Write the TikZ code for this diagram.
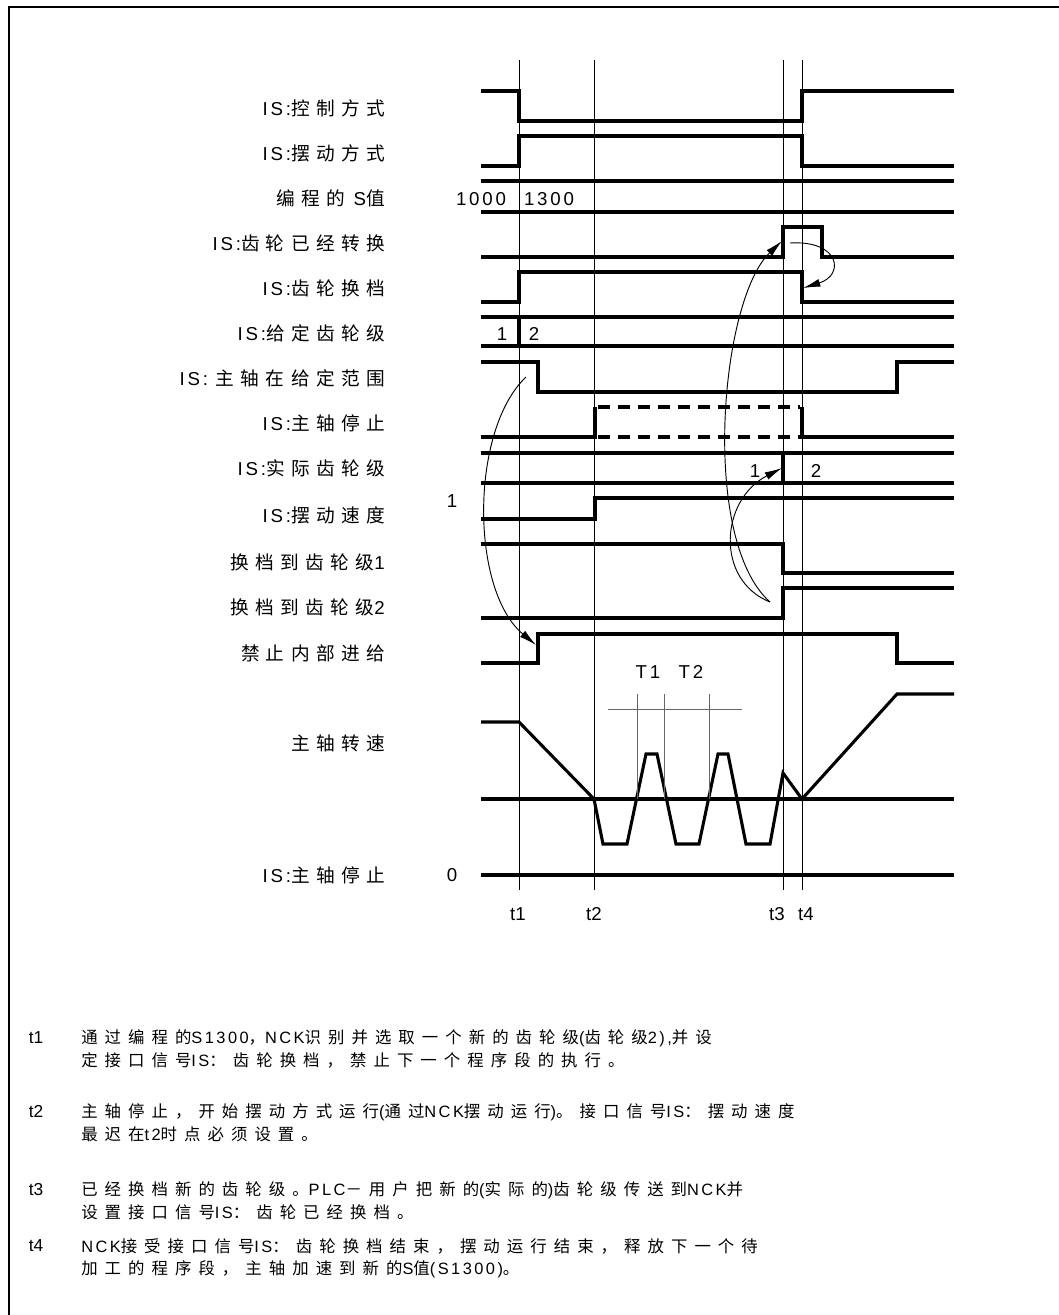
\documentclass[tikz,border=0pt]{standalone}
\usepackage{fontspec}
\setmainfont{Liberation Sans}[LetterSpace=15]
\newfontfamily\plainfont{Liberation Sans}
\newfontfamily\zhA{Noto Sans CJK SC}[LetterSpace=34]
\newfontfamily\zhB{Noto Sans CJK SC}[LetterSpace=43]
\usetikzlibrary{arrows.meta}
\newcommand\za[1]{{\zhA #1}}
\newcommand\zb[1]{{\zhB #1}}
\begin{document}
\begin{tikzpicture}[x=0.75pt,y=-0.75pt,
  sig/.style={line width=2.3pt},
  tline/.style={line width=0.75pt},
  tmark/.style={line width=0.6pt, black!60},
  dsig/.style={line width=2.3pt, dash pattern=on 9pt off 6pt},
  curv/.style={line width=0.7pt, -{Latex[length=13pt,width=6pt]}},
  lab/.style={anchor=east, inner sep=0pt, font=\fontsize{14}{16}\selectfont},
  val/.style={inner sep=0pt, font=\fontsize{14}{16}\selectfont},
  tlab/.style={inner sep=0pt, font=\plainfont\fontsize{14}{16}\selectfont},
  ntlab/.style={inner sep=0pt, font=\plainfont\fontsize{13}{15}\selectfont},
  note/.style={anchor=west, inner sep=0pt, font=\fontsize{12.3}{14}\selectfont},
]
\useasboundingbox (0,0) rectangle (1059,1315);
% frame
\draw[line width=1.5pt] (9,1315) -- (9,7) -- (1059,7);

% time lines
\draw[tline] (519,60) -- (519,890);
\draw[tline] (594,60) -- (594,890);
\draw[tline] (783,60) -- (783,890);
\draw[tline] (802,60) -- (802,890);
\node[tlab] (t1) at (518,914) {t1};
\node[tlab] (t2) at (594,914) {t2};
\node[tlab] (t3) at (777,914) {t3};
\node[tlab] (t4) at (806,914) {t4};

% labels
\node[lab] (l1) at (385,108) {IS:\za{控制方式}};
\node[lab] (l2) at (385,153) {IS:\za{摆动方式}};
\node[lab] (l3) at (385,198) {\za{编程的} S\za{值}};
\node[lab] (l4) at (385,243) {IS:\za{齿轮已经转换}};
\node[lab] (l5) at (385,288) {IS:\za{齿轮换档}};
\node[lab] (l6) at (385,333) {IS:\za{给定齿轮级}};
\node[lab] (l7) at (385,378) {IS: \za{主轴在给定范围}};
\node[lab] (l8) at (385,423) {IS:\za{主轴停止}};
\node[lab] (l9) at (385,468) {IS:\za{实际齿轮级}};
\node[lab] (l10) at (385,515) {IS:\za{摆动速度}};
\node[lab] (l11) at (385,562) {\za{换档到齿轮级}1};
\node[lab] (l12) at (385,607) {\za{换档到齿轮级}2};
\node[lab] (l13) at (385,653) {\za{禁止内部进给}};
\node[lab] (l14) at (385,743) {\za{主轴转速}};
\node[lab] (l15) at (385,875) {IS:\za{主轴停止}};

% row 1
\draw[sig] (481,91) -- (519,91) -- (519,121) -- (802,121) -- (802,91) -- (954,91);
% row 2
\draw[sig] (481,166) -- (519,166) -- (519,136) -- (802,136) -- (802,166) -- (954,166);
% row 3
\draw[sig] (481,181) -- (954,181);
\draw[sig] (481,212) -- (954,212);
\node[val] (v1000) at (481,199) {1000};
\node[val] (v1300) at (549,199) {1300};
% row 4
\draw[sig] (481,257) -- (783,257) -- (783,227) -- (822,227) -- (822,257) -- (954,257);
% row 5
\draw[sig] (481,302) -- (519,302) -- (519,272) -- (802,272) -- (802,302) -- (954,302);
% row 6
\draw[sig] (481,317) -- (954,317);
\draw[sig] (481,346) -- (954,346);
\draw[sig] (519,317) -- (519,346);
\node[val] (g1) at (502,334) {1};
\node[val] (g2) at (534,334) {2};
% row 7
\draw[sig] (481,362) -- (538,362) -- (538,392) -- (897,392) -- (897,362) -- (954,362);
% row 8
\draw[sig] (481,437) -- (595,437) -- (595,407);
\draw[dsig] (598,407) -- (800,407);
\draw[dsig] (598,437) -- (800,437);
\draw[sig] (802,407) -- (802,437) -- (954,437);
% row 9
\draw[sig] (481,453) -- (954,453);
\draw[sig] (481,483) -- (954,483);
\draw[sig] (783,453) -- (783,483);
\node[val] (a1) at (755,471) {1};
\node[val] (a2) at (816,471) {2};
% row 10
\draw[sig] (481,519) -- (595,519) -- (595,498) -- (954,498);
\node[val] (one) at (452,501) {1};
% row 11
\draw[sig] (481,544) -- (783,544) -- (783,573) -- (954,573);
% row 12
\draw[sig] (481,618) -- (783,618) -- (783,588) -- (954,588);
% row 13
\draw[sig] (481,663) -- (538,663) -- (538,634) -- (897,634) -- (897,663) -- (954,663);
% row 14
\draw[sig] (481,799) -- (954,799);
\draw[sig, line join=miter] (481,722) -- (519,722) -- (594,799) -- (603,844) -- (627,844) -- (646,754) -- (657,754) -- (676,844) -- (699,844) -- (718,754) -- (728,754) -- (746,844) -- (770,844) -- (783,773) -- (802,799) -- (897,694) -- (954,694);
% T1 T2 markers
\draw[tmark] (608,709) -- (742,709);
\draw[tmark] (637,694) -- (637,799);
\draw[tmark] (664,694) -- (664,799);
\draw[tmark] (709,694) -- (709,799);
\node[val] (T1) at (648,672) {T1};
\node[val] (T2) at (691,672) {T2};
% row 15
\draw[sig] (481,875) -- (954,875);
\node[val] (zero) at (452,875) {0};

% curved arrows
\coordinate (aS) at (526,377);
\coordinate (aE) at (536,645);
\draw[curv] (aS) .. controls (470,430) and (470,590) .. (aE);
\coordinate (bS) at (770,602);
\coordinate (bE) at (782,241);
\draw[curv] (bS) .. controls (700,540) and (720,300) .. (bE);
\coordinate (cE) at (782,468);
\draw[curv] (bS) .. controls (715,580) and (720,500) .. (cE);
\coordinate (dS) at (790,243);
\coordinate (dE) at (803,288);
\draw[curv] (dS) .. controls (840,240) and (845,275) .. (dE);

% notes
\node[ntlab] (n1) at (36,1038) {t1};
\node[note] (n1a) at (81,1038) {\zb{通过编程的}S1300\zb{，}NCK\zb{识别并选取一个新的齿轮级}(\zb{齿轮级}2),\zb{并设}};
\node[note] (n1b) at (81,1060) {\zb{定接口信号}IS\zb{：齿轮换档，禁止下一个程序段的执行。}};
\node[ntlab] (n2) at (36,1112) {t2};
\node[note] (n2a) at (81,1112) {\zb{主轴停止，开始摆动方式运行}(\zb{通过}NCK\zb{摆动运行})\zb{。接口信号}IS\zb{：摆动速度}};
\node[note] (n2b) at (81,1134) {\zb{最迟在}t2\zb{时点必须设置。}};
\node[ntlab] (n3) at (36,1190) {t3};
\node[note] (n3a) at (81,1190) {\zb{已经换档新的齿轮级。}PLC\zb{－用户把新的}(\zb{实际的})\zb{齿轮级传送到}NCK\zb{并}};
\node[note] (n3b) at (81,1212) {\zb{设置接口信号}IS\zb{：齿轮已经换档。}};
\node[ntlab] (n4) at (36,1246) {t4};
\node[note] (n4a) at (81,1246) {NCK\zb{接受接口信号}IS\zb{：齿轮换档结束，摆动运行结束，释放下一个待}};
\node[note] (n4b) at (81,1269) {\zb{加工的程序段，主轴加速到新的}S\zb{值}(S1300)\zb{。}};
\end{tikzpicture}
\end{document}
